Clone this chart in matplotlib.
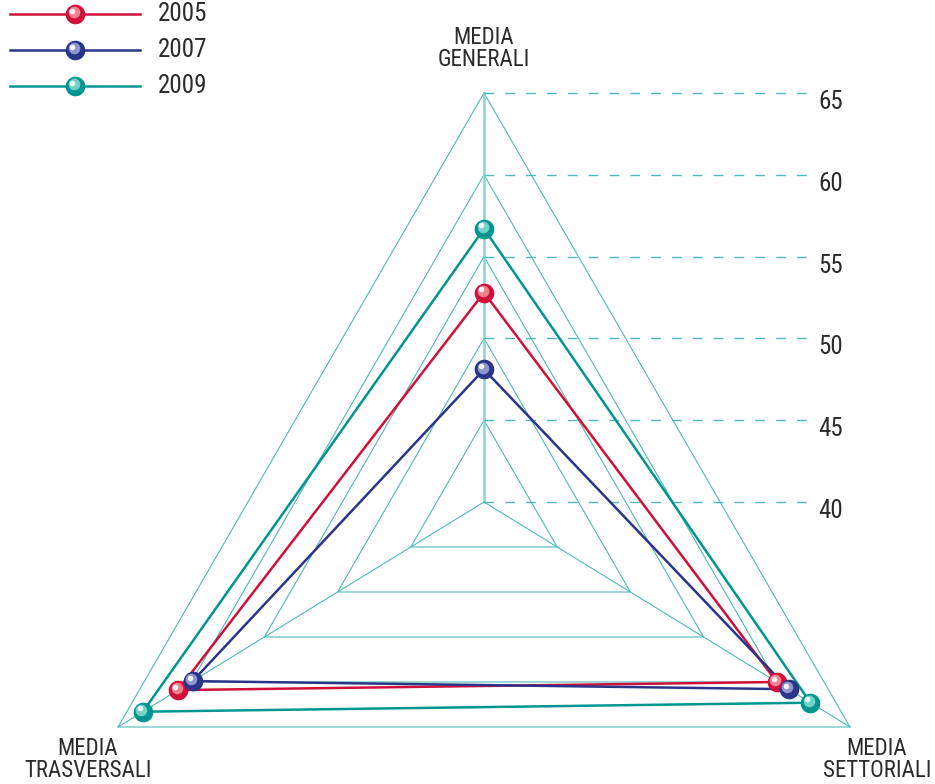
import numpy as np
import matplotlib.pyplot as plt

plt.rcParams['font.family'] = ['Roboto Condensed', 'Liberation Sans Narrow', 'Roboto', 'DejaVu Sans']

# three indicators, read clockwise from the top
categories = ['MEDIA\nGENERALI', 'MEDIA\nSETTORIALI', 'MEDIA\nTRASVERSALI']
years = ['2005', '2007', '2009']
v2005 = [52.8, 60.0, 60.9]
v2007 = [48.1, 60.8, 59.9]
v2009 = [56.7, 62.3, 63.3]
levels = [40, 45, 50, 55, 60, 65]

colors = {'2005': '#d0103a', '2007': '#2a358a', '2009': '#009690'}
light = {'2005': '#f6a0a8', '2007': '#a9aee0', '2009': '#8fe0da'}
ring_col = '#4fb8b8'
txt_col = '#2b2b2b'

# drawing is done in pixel units
W, H = 935, 784
fig = plt.figure(figsize=(W / 100, H / 100), dpi=100)
ax = fig.add_axes([0, 0, 1, 1])
ax.set_xlim(0, W)
ax.set_ylim(H, 0)
ax.axis('off')

cx, cy = 484, 502
# full-scale offset of each axis tip from the centre
tips = np.array([[0, -409], [366, 225], [-366, 225]])
vmin, vmax = levels[0], levels[-1]


def to_xy(vals):
    f = (np.asarray(vals, float) - vmin) / (vmax - vmin)
    return cx + tips[:, 0] * f, cy + tips[:, 1] * f


def sphere(x, y, name, s=200):
    x = np.asarray(x, float)
    y = np.asarray(y, float)
    ax.scatter(x, y, s=s, color=colors[name], zorder=5, linewidths=0)
    ax.scatter(x - 0.8, y - 0.8, s=s * 0.6, color=colors[name], zorder=6,
               linewidths=0, alpha=0.5)
    ax.scatter(x - 1.5, y - 1.8, s=s * 0.35, color=light[name], zorder=6,
               linewidths=0, alpha=0.8)
    ax.scatter(x - 3, y - 3.5, s=s * 0.08, color='white', zorder=7,
               linewidths=0, alpha=0.9)


# rings
for lv in levels[1:]:
    x, y = to_xy([lv] * 3)
    ax.plot(np.append(x, x[0]), np.append(y, y[0]), color=ring_col, lw=0.8, zorder=1)

# spokes
for i, (dx, dy) in enumerate(tips):
    ax.plot([cx, cx + dx], [cy, cy + dy], color='#8fd3d3' if i == 0 else ring_col,
            lw=1.8 if i == 0 else 0.8, zorder=1)

# scale on the top axis
for lv in levels:
    _, y = to_xy([lv] * 3)
    ax.plot([cx, 811], [y[0], y[0]], color=ring_col, lw=1.0, dashes=(7, 8), zorder=1)
    ax.text(818, y[0] + 9, str(lv), fontsize=18, color=txt_col, va='center', ha='left')

series = {'2005': v2005, '2007': v2007, '2009': v2009}
for name in ['2009', '2005', '2007']:
    x, y = to_xy(series[name])
    ax.plot(np.append(x, x[0]), np.append(y, y[0]), color=colors[name], lw=1.8, zorder=3)
for name in ['2009', '2005', '2007']:
    x, y = to_xy(series[name])
    sphere(x, y, name)

# axis names
ax.text(484, 71, categories[0], fontsize=16.5, ha='center', va='bottom',
        color=txt_col, linespacing=0.92)
ax.text(877, 737, categories[1], fontsize=16.5, ha='center', va='top',
        color=txt_col, linespacing=0.92)
ax.text(88, 737, categories[2], fontsize=16.5, ha='center', va='top',
        color=txt_col, linespacing=0.92)

# legend
for i, name in enumerate(years):
    ly = 14 + 36 * i
    ax.plot([10, 140], [ly, ly], color=colors[name], lw=1.8)
    sphere(75, ly, name)
    ax.text(158, ly, name, fontsize=18, color=txt_col, va='center', ha='left')

fig.savefig('out.png', dpi=100)
